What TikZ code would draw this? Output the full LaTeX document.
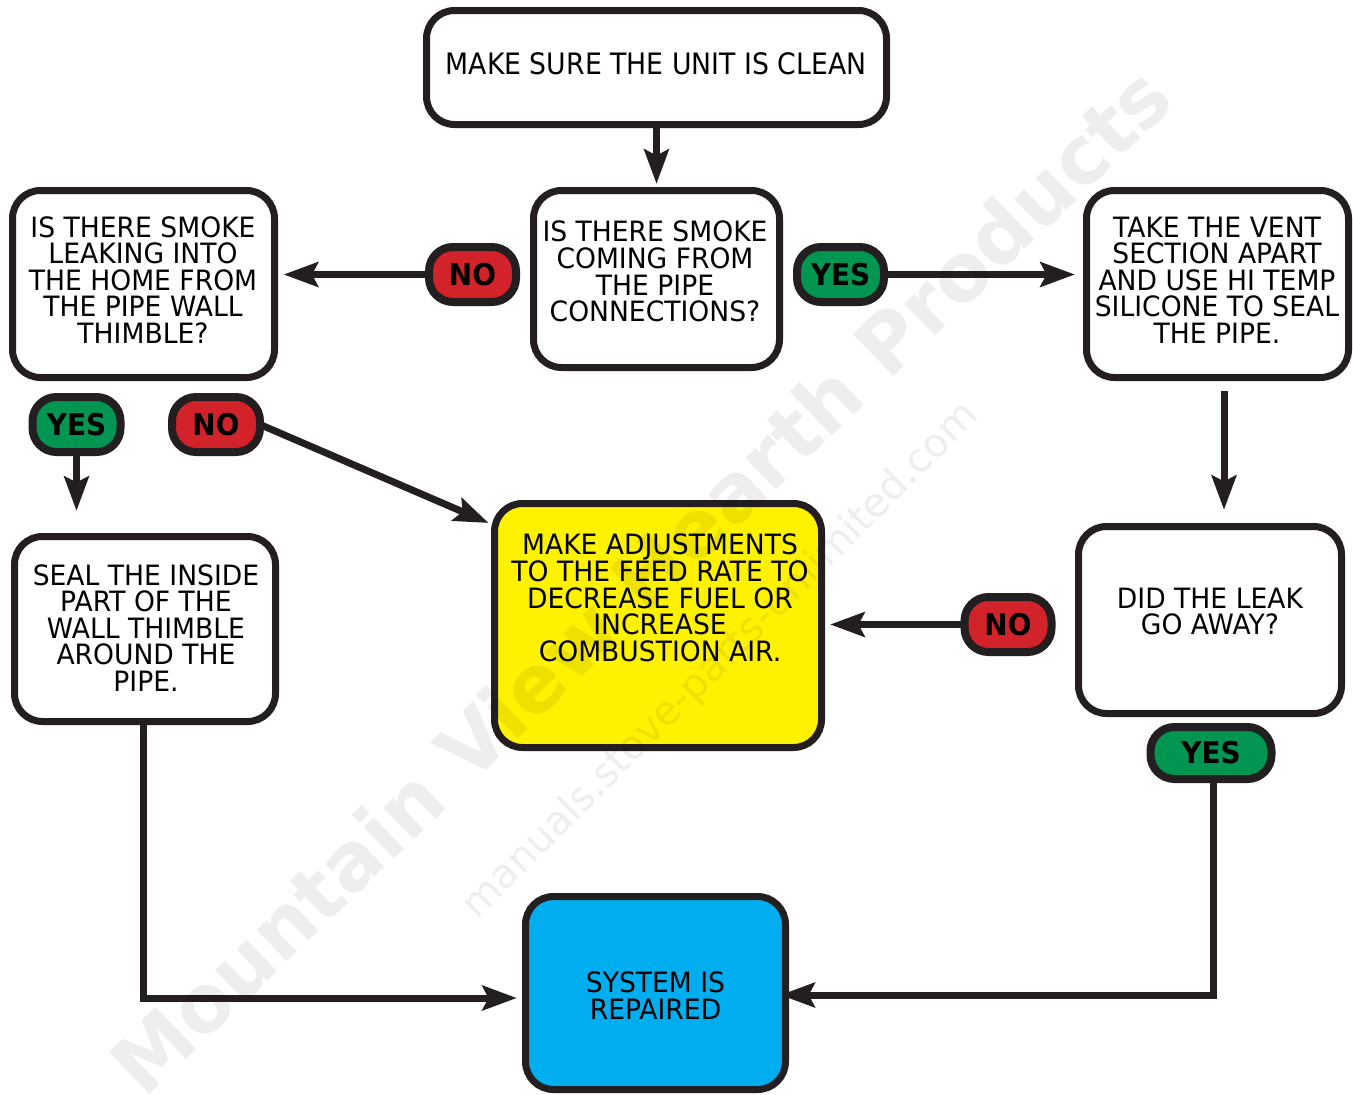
\documentclass[tikz,border=0pt]{standalone}
\usepackage{fontspec}
\setmainfont{DejaVu Sans}
\newfontfamily\boxfont{DejaVu Sans}[FakeStretch=0.95]
\newfontfamily\topfont{DejaVu Sans}[FakeStretch=0.905]
\newfontfamily\pillfont{DejaVu Sans}[FakeStretch=0.93]
\newfontfamily\wmfont{DejaVu Sans}
\usetikzlibrary{arrows.meta}
\definecolor{ink}{HTML}{231F20}
\definecolor{nored}{HTML}{D2232A}
\definecolor{yesgreen}{HTML}{009550}
\definecolor{stepyellow}{HTML}{FFF200}
\definecolor{doneblue}{HTML}{00AEEF}
\begin{document}
\begin{tikzpicture}[x=1pt,y=-1pt,
  stepbox/.style={draw=ink, line width=7pt, rounded corners=28pt, fill=white, inner sep=0pt},
  boxtext/.style={align=center, inner sep=0pt, text=black, font=\boxfont\fontsize{28pt}{26.6pt}\selectfont},
  pill/.style={draw=ink, line width=8pt, rounded corners=24pt, inner sep=0pt,
    minimum width=87pt, minimum height=55pt, text=black,
    font=\pillfont\bfseries\fontsize{30pt}{30pt}\selectfont},
  nopill/.style={pill, fill=nored},
  yespill/.style={pill, fill=yesgreen},
  conn/.style={draw=ink, line width=7pt,
    -{Stealth[length=35pt,width=26pt,inset=7pt,line width=0pt]}},
  watermark/.style={text=black, opacity=0.065, inner sep=0pt}
]
\fill[white] (0,0) rectangle (1353,1095);
\useasboundingbox (0,0) rectangle (1353,1095);

% boxes
\node[stepbox, minimum width=460pt, minimum height=114pt] (top) at (656.5,67.5) {};
\node[boxtext, font=\topfont\fontsize{29.5pt}{26.6pt}\selectfont] (toptext) at (656,64.2) {MAKE SURE THE UNIT IS CLEAN};

\node[stepbox, minimum width=246pt, minimum height=177pt] (q1) at (656.5,279) {};
\node[boxtext] (q1text) at (655,271.7) {IS THERE SMOKE\\COMING FROM\\THE PIPE\\CONNECTIONS?};

\node[stepbox, minimum width=262pt, minimum height=187pt] (leftq) at (143.5,284) {};
\node[boxtext] (leftqtext) at (143,280) {IS THERE SMOKE\\LEAKING INTO\\THE HOME FROM\\THE PIPE WALL\\THIMBLE?};

\node[stepbox, minimum width=262pt, minimum height=187pt] (take) at (1217.5,284) {};
\node[boxtext] (taketext) at (1217,280) {TAKE THE VENT\\SECTION APART\\AND USE HI TEMP\\SILICONE TO SEAL\\THE PIPE.};

\node[stepbox, minimum width=261pt, minimum height=185pt] (seal) at (145,629) {};
\node[boxtext] (sealtext) at (146,628) {SEAL THE INSIDE\\PART OF THE\\WALL THIMBLE\\AROUND THE\\PIPE.};

\node[stepbox, fill=stepyellow, minimum width=327pt, minimum height=244pt] (adjust) at (658,625.5) {};
\node[boxtext] (adjusttext) at (660,598) {MAKE ADJUSTMENTS\\TO THE FEED RATE TO\\DECREASE FUEL OR\\INCREASE\\COMBUSTION AIR.};

\node[stepbox, minimum width=263pt, minimum height=187pt] (did) at (1210,620) {};
\node[boxtext] (didtext) at (1210,611.5) {DID THE LEAK\\GO AWAY?};

\node[stepbox, fill=doneblue, minimum width=260pt, minimum height=193pt] (done) at (655.5,993) {};
\node[boxtext] (donetext) at (655.5,995.5) {SYSTEM IS\\REPAIRED};

% connectors
\draw[conn, shorten >=3.5pt] (top) -- (q1);
\draw[conn, shorten >=6pt] (472.5,274.5) coordinate (noAc) (noAc) ++(-43.5,0) coordinate (noAw)
  (noAw) -- (noAw -| leftq.east);
\draw[conn, shorten >=8.5pt] (840.5,274.5) coordinate (yesAc) (yesAc) ++(43.5,0) coordinate (yesAe)
  (yesAe) -- (yesAe -| take.west);
\draw[conn, shorten <=9.5pt, shorten >=13.5pt] ([xshift=6.5pt]take.south) -- ([xshift=14pt]did.north);
\draw[conn, shorten >=5.5pt] (1008,624.5) coordinate (noCc) (noCc) ++(-43.5,0) coordinate (noCw)
  (noCw) -- (noCw -| adjust.east);
\draw[conn, shorten >=3pt] (260,424.5) coordinate (noBe) (noBe) -- ([yshift=-24pt]adjust.north west);
\draw[conn, shorten >=22.5pt] (76.5,452) coordinate (yesBs) (yesBs) -- (yesBs |- seal.north);
\draw[conn, shorten >=5.5pt] ([xshift=-2pt]seal.south) |- ([yshift=-5pt]done.west);
\draw[conn, shorten >=-8.3pt] (1213,779) coordinate (yesCs) (yesCs) |- ([yshift=-2pt]done.east);

% answer pills
\node[nopill] (noA) at (noAc) {NO};
\node[yespill] (yesA) at (yesAc) {YES};
\node[yespill, minimum width=88pt] (yesB) at (76.5,424.5) {YES};
\node[nopill, minimum width=88pt] (noB) at (216,424.5) {NO};
\node[nopill] (noC) at (noCc) {NO};
\node[yespill, minimum width=121pt, minimum height=52pt] (yesC) at (1211,753) {YES};

% watermark
\node[watermark, rotate=44, font=\wmfont\bfseries\fontsize{80pt}{80pt}\selectfont] (wmA) at (640,580) {Mountain View Hearth Products};
\node[watermark, rotate=45, font=\wmfont\fontsize{40pt}{40pt}\selectfont] (wmB) at (721,661) {manuals.stove-parts-unlimited.com};
\end{tikzpicture}
\end{document}
